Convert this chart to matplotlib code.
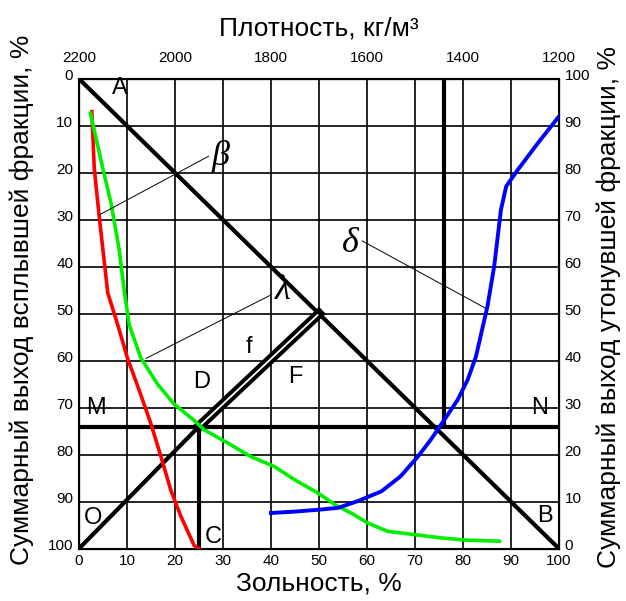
import matplotlib
matplotlib.use('Agg')
import matplotlib.pyplot as plt
import matplotlib.transforms as mtransforms

plt.rcParams['font.family'] = ['Liberation Sans', 'DejaVu Sans']

# зольность (x) и суммарный выход всплывших (y, левая ось)
red_x = [2.7, 3.2, 4.2, 5.3, 6.0, 8.1, 10.1, 12.6, 15.0, 17.1, 19.1, 21.2, 24.0, 25.0]
red_y = [7, 19, 29, 39, 45.5, 52.4, 59.4, 66.4, 73.4, 80.4, 87.4, 93, 99.3, 100]

green_x = [2.4, 3.5, 4.9, 6.7, 8.4, 9.5, 10.5, 12.9, 16.4, 19.8, 24, 26.1, 31, 35.8,
           40.7, 44.9, 49.7, 53.9, 56.7, 60.1, 64.3, 69.9, 75.4, 81, 87.6]
green_y = [7.3, 12.3, 18.7, 26.5, 36.4, 45.5, 52.4, 59.4, 65, 69.2, 72.7, 74.7, 77.5, 80.4,
           82.5, 85.3, 88.1, 91, 92.4, 94.5, 96.3, 97, 97.7, 98.2, 98.4]

# выход утонувших (правая ось)
blue_x = [40, 45, 50, 54, 58, 63, 67, 70.6, 73.3, 76.1, 78.9, 81, 82.7, 85.1,
          86.5, 87.9, 89, 91.4, 95.6, 100]
blue_y = [7.6, 7.9, 8.3, 8.7, 10.1, 12.2, 15.4, 19.6, 23.2, 27.4, 31.7, 36, 40.9, 51.6,
          60.1, 72.1, 77.1, 80.6, 86.3, 92]

density_ticks = [2200, 2000, 1800, 1600, 1400, 1200]

fig = plt.figure(figsize=(6.26, 6.01), dpi=100)
ax = fig.add_axes([0.126, 0.087, 0.767, 0.782])
ax.set_xlim(0, 100)
ax.set_ylim(100, 0)
ax.set_xticks(range(0, 101, 10))
ax.set_yticks(range(0, 101, 10))
ax.grid(True, color='black', lw=1.2)
ax.tick_params(length=0, labelsize=11, pad=4)
for s in ax.spines.values():
    s.set_linewidth(1.5)
ax.set_xlabel('Зольность, %', fontsize=19, va='center')
ax.xaxis.set_label_coords(0.5, -0.074)
ax.set_ylabel('Суммарный выход всплывшей фракции, %', fontsize=19, va='center')
ax.yaxis.set_label_coords(-0.119, 0.53)

axr = ax.twinx()
axr.set_ylim(0, 100)
axr.set_yticks(range(0, 101, 10))
axr.tick_params(length=0, labelsize=11, pad=4)
axr.set_ylabel('Суммарный выход утонувшей фракции, %', fontsize=19, rotation=90, va='center')
axr.yaxis.set_label_coords(1.103, 0.515)

axt = ax.twiny()
axt.set_xlim(2200, 1200)
axt.set_xticks(density_ticks)
axt.tick_params(length=0, labelsize=11, pad=10)
axt.set_xlabel('Плотность, кг/м³', fontsize=19, va='center')
axt.xaxis.set_label_coords(0.5, 1.107)

# подписи делений по вертикали чуть выше линий сетки
up = mtransforms.ScaledTranslation(0, 3 / 72, fig.dpi_scale_trans)
for lab in ax.get_yticklabels() + axr.get_yticklabels():
    lab.set_transform(lab.get_transform() + up)

# построения
k = dict(color='black', lw=3, solid_capstyle='butt', zorder=3)
ax.plot([0, 100], [0, 100], **k)
ax.plot([0, 25], [100, 74], **k)
ax.plot([25, 50], [74, 50], color='black', lw=7, zorder=3)
ax.plot([25.3, 49.7], [73.7, 50.3], color='white', lw=1.3, zorder=3)
ax.plot([0, 100], [74, 74], **k)
ax.plot([25, 25], [74, 100], **k)
ax.plot([76, 76], [0, 74], **k)

ax.plot(red_x, red_y, color='red', lw=2.6, zorder=4)
ax.plot(green_x, green_y, color='#00ee00', lw=2.6, zorder=4)
axr.plot(blue_x, blue_y, color='blue', lw=2.8, zorder=4)

# выноски
ax.plot([4.2, 27], [29, 16.5], color='black', lw=0.7, zorder=5)
ax.plot([14, 40], [59.5, 46], color='black', lw=0.7, zorder=5)
ax.plot([59, 85], [34.5, 49], color='black', lw=0.7, zorder=5)
gk = dict(fontsize=26, family='Liberation Serif', style='italic', zorder=6,
          ha='center', va='center')
ax.text(29.5, 16.5, 'β', **gk)
ax.text(42.5, 45, 'λ', **gk)
ax.text(56.5, 35, 'δ', **gk)

lk = dict(fontsize=17, zorder=6, ha='center', va='center')
ax.text(8.5, 2, 'A', **lk)
ax.text(97, 93, 'B', **lk)
ax.text(28, 97.5, 'C', **lk)
ax.text(25.5, 64.5, 'D', **lk)
ax.text(45, 63.5, 'F', **lk)
ax.text(35.5, 57, 'f', **lk)
ax.text(3.5, 70, 'M', **lk)
ax.text(96, 70, 'N', **lk)
ax.text(3, 93.5, 'O', **lk)

plt.savefig('out.png', dpi=100)
